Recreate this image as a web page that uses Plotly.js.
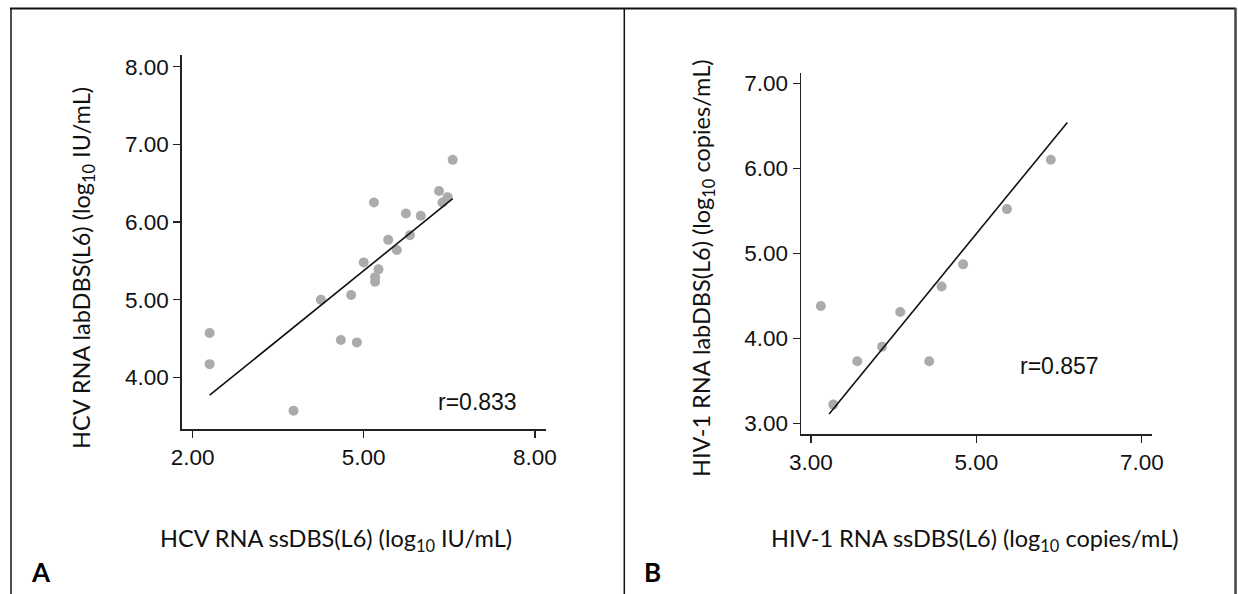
<!DOCTYPE html>
<html>
<head>
<meta charset="utf-8">
<script src="https://cdn.plot.ly/plotly-3.0.1.min.js"></script>
<style>html,body{margin:0;padding:0;background:#fff;}#chart{width:1238px;height:594px;}</style>
</head>
<body>
<div id="chart"></div>
<script>
// Panel A: HCV RNA
var hcvX = [2.30, 2.30, 3.77, 4.25, 4.60, 4.78, 4.88, 5.00, 5.18, 5.20, 5.20, 5.26, 5.43, 5.58, 5.74, 5.81, 6.00, 6.32, 6.38, 6.47, 6.56];
var hcvY = [4.57, 4.17, 3.57, 5.00, 4.48, 5.06, 4.45, 5.48, 6.25, 5.29, 5.23, 5.39, 5.77, 5.64, 6.11, 5.83, 6.08, 6.40, 6.25, 6.32, 6.80];
var hcvLineX = [2.30, 6.56];
var hcvLineY = [3.77, 6.30];
var hcvR = "r=0.833";
var hcvXTicks = [2, 5, 8];
var hcvYTicks = [4, 5, 6, 7, 8];

// Panel B: HIV-1 RNA
var hivX = [3.12, 3.27, 3.56, 3.86, 4.08, 4.43, 4.58, 4.84, 5.37, 5.90];
var hivY = [4.38, 3.22, 3.73, 3.90, 4.31, 3.73, 4.61, 4.87, 5.52, 6.10];
var hivLineX = [3.22, 6.10];
var hivLineY = [3.11, 6.54];
var hivR = "r=0.857";
var hivXTicks = [3, 5, 7];
var hivYTicks = [3, 4, 5, 6, 7];

var W = 1238, H = 594;
function px(x) { return x / W; }
function py(y) { return 1 - y / H; }

var dotStyle = {color: '#ababab', size: 10, line: {width: 0}};
var lineStyle = {color: '#111111', width: 1.6};

var data = [
  {x: hcvX, y: hcvY, mode: 'markers', type: 'scatter', marker: dotStyle, xaxis: 'x', yaxis: 'y', hoverinfo: 'skip'},
  {x: hcvLineX, y: hcvLineY, mode: 'lines', type: 'scatter', line: lineStyle, xaxis: 'x', yaxis: 'y', hoverinfo: 'skip'},
  {x: hivX, y: hivY, mode: 'markers', type: 'scatter', marker: dotStyle, xaxis: 'x2', yaxis: 'y2', hoverinfo: 'skip'},
  {x: hivLineX, y: hivLineY, mode: 'lines', type: 'scatter', line: lineStyle, xaxis: 'x2', yaxis: 'y2', hoverinfo: 'skip'}
];

var tickFont = {family: 'Liberation Sans, Arial, sans-serif', size: 22.5, color: '#111'};
function axisBase(extra) {
  var a = {
    showline: true, linecolor: '#222', linewidth: 1.5,
    ticks: 'outside', ticklen: 7, tickwidth: 1.3, tickcolor: '#222',
    showgrid: false, zeroline: false, tickfont: tickFont,
    tickformat: '.2f', tickmode: 'array', fixedrange: true
  };
  for (var k in extra) a[k] = extra[k];
  return a;
}

var titleFont = {family: 'Lato, sans-serif', size: 23.5, color: '#111'};
var layout = {
  width: W, height: H,
  margin: {l: 0, r: 0, t: 0, b: 0},
  paper_bgcolor: '#fff', plot_bgcolor: '#fff',
  showlegend: false,
  xaxis: axisBase({domain: [px(181.7), px(545.7)], range: [1.81, 8.19], tickvals: hcvXTicks, anchor: 'y'}),
  yaxis: axisBase({domain: [py(429.3), py(55)], range: [3.331, 8.15], tickvals: hcvYTicks, anchor: 'x'}),
  xaxis2: axisBase({domain: [px(801), px(1151.7)], range: [2.88, 7.12], tickvals: hivXTicks, anchor: 'y2'}),
  yaxis2: axisBase({domain: [py(434), py(73.3)], range: [2.874, 7.118], tickvals: hivYTicks, anchor: 'x2'}),
  annotations: [
    {xref: 'x', yref: 'y', x: 7.0, y: 3.686, text: hcvR, showarrow: false, xanchor: 'center', yanchor: 'middle',
     font: {family: 'Liberation Sans, Arial, sans-serif', size: 23, color: '#111'}},
    {xref: 'x2', yref: 'y2', x: 6.0, y: 3.68, text: hivR, showarrow: false, xanchor: 'center', yanchor: 'middle',
     font: {family: 'Liberation Sans, Arial, sans-serif', size: 23, color: '#111'}},
    {xref: 'paper', yref: 'paper', x: px(336), y: py(540), text: 'HCV RNA ssDBS(L6) (log<sub>10</sub> IU/mL)',
     showarrow: false, xanchor: 'center', yanchor: 'middle', font: titleFont},
    {xref: 'paper', yref: 'paper', x: px(975), y: py(540), text: 'HIV-1 RNA ssDBS(L6) (log<sub>10</sub> copies/mL)',
     showarrow: false, xanchor: 'center', yanchor: 'middle', font: titleFont},
    {xref: 'paper', yref: 'paper', x: px(83), y: py(268), text: 'HCV RNA labDBS(L6) (log<sub>10</sub> IU/mL)',
     showarrow: false, xanchor: 'center', yanchor: 'middle', textangle: -90, font: titleFont},
    {xref: 'paper', yref: 'paper', x: px(703), y: py(268), text: 'HIV-1 RNA labDBS(L6) (log<sub>10</sub> copies/mL)',
     showarrow: false, xanchor: 'center', yanchor: 'middle', textangle: -90, font: titleFont},
    {xref: 'paper', yref: 'paper', x: px(41), y: py(572), text: '<b>A</b>', showarrow: false, xanchor: 'center', yanchor: 'middle',
     font: {family: 'Lato, sans-serif', size: 26, color: '#000'}},
    {xref: 'paper', yref: 'paper', x: px(652), y: py(572), text: '<b>B</b>', showarrow: false, xanchor: 'center', yanchor: 'middle',
     font: {family: 'Lato, sans-serif', size: 26, color: '#000'}}
  ],
  shapes: [
    {type: 'line', xref: 'paper', yref: 'paper', x0: px(10), x1: px(1236), y0: py(8.5), y1: py(8.5), line: {color: '#111', width: 2}},
    {type: 'line', xref: 'paper', yref: 'paper', x0: px(11), x1: px(11), y0: py(8), y1: 0, line: {color: '#111', width: 1.5}},
    {type: 'line', xref: 'paper', yref: 'paper', x0: px(624.3), x1: px(624.3), y0: py(8), y1: 0, line: {color: '#111', width: 1.5}},
    {type: 'line', xref: 'paper', yref: 'paper', x0: px(1235.5), x1: px(1235.5), y0: py(8), y1: 0, line: {color: '#444', width: 2.5}}
  ]
};

Plotly.newPlot('chart', data, layout, {staticPlot: true, displayModeBar: false});
</script>
</body>
</html>
